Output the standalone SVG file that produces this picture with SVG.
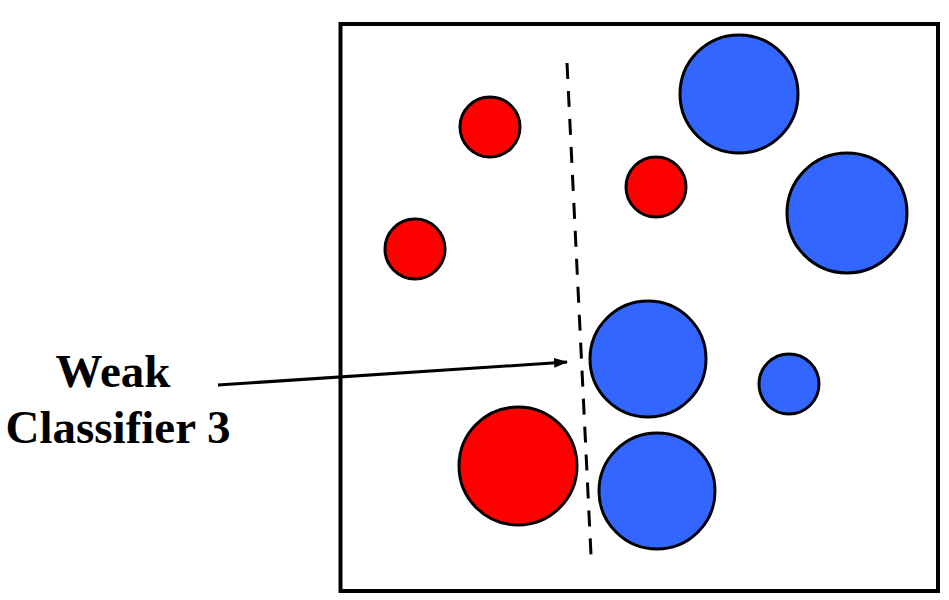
<svg xmlns="http://www.w3.org/2000/svg" width="949" height="600" viewBox="0 0 949 600">
<defs>
<style>
.red{fill:#ff0000;stroke:#000;stroke-width:3}
.blue{fill:#3366ff;stroke:#000;stroke-width:3}
.lbl{font-family:"Liberation Serif","Times New Roman",serif;font-weight:bold;font-size:47px;fill:#000;text-anchor:middle}
</style>
<marker id="ah" markerWidth="14" markerHeight="10" refX="13" refY="5" orient="auto" markerUnits="userSpaceOnUse" viewBox="0 0 14 10">
<path d="M0,0 L14,5 L0,10 Z" fill="#000"/>
</marker>
</defs>
<rect width="949" height="600" fill="#fff"/>
<g id="frame"><rect x="340.5" y="24" width="597.5" height="567" fill="none" stroke="#000" stroke-width="4"/></g>
<g id="r1"><circle class="red" cx="490" cy="127" r="30"/></g>
<g id="r2"><circle class="red" cx="656" cy="187" r="30"/></g>
<g id="r3"><circle class="red" cx="415" cy="249" r="30"/></g>
<g id="r4"><circle class="red" cx="518" cy="466" r="59"/></g>
<g id="b1"><circle class="blue" cx="739" cy="94" r="59"/></g>
<g id="b2"><circle class="blue" cx="847" cy="213" r="60"/></g>
<g id="b3"><circle class="blue" cx="648" cy="359" r="58"/></g>
<g id="b4"><circle class="blue" cx="789" cy="384" r="30"/></g>
<g id="b5"><circle class="blue" cx="657" cy="491" r="58"/></g>
<g id="classifier"><line x1="567" y1="63" x2="591" y2="555" stroke="#000" stroke-width="3" stroke-dasharray="16 12"/></g>
<g id="label"><text class="lbl" x="113" y="387">Weak</text><text class="lbl" x="118" y="443">Classifier 3</text></g>
<g id="connectors"><line x1="218" y1="385" x2="567" y2="362" stroke="#000" stroke-width="3" marker-end="url(#ah)"/></g>
</svg>
